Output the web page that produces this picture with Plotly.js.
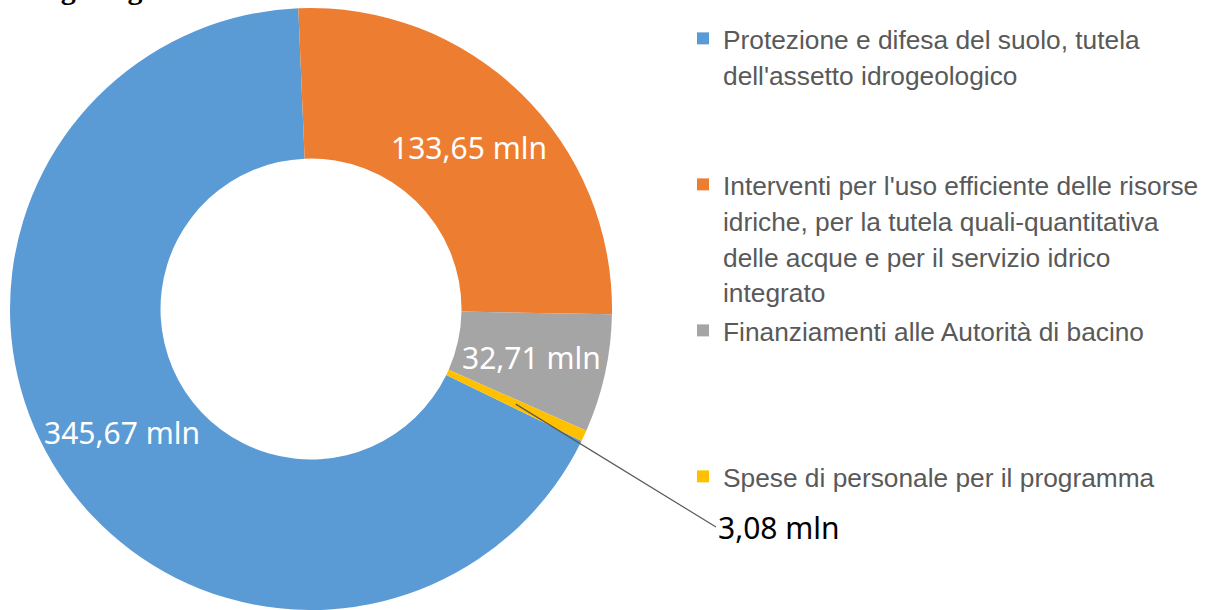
<!DOCTYPE html>
<html><head><meta charset="utf-8">
<script src="https://cdn.plot.ly/plotly-3.0.1.min.js"></script>
<style>html,body{margin:0;padding:0;background:#fff}#chart{width:1208px;height:610px}</style>
</head><body><div id="chart"></div>
<script>
// ---- data ----
const categories = [
  "Protezione e difesa del suolo, tutela<br>dell'assetto idrogeologico",
  "Interventi per l'uso efficiente delle risorse<br>idriche, per la tutela quali-quantitativa<br>delle acque e per il servizio idrico<br>integrato",
  "Finanziamenti alle Autorità di bacino",
  "Spese di personale per il programma"
];
const values = [345.67, 133.65, 32.71, 3.08];
const unit = "mln";
const titleFragment = "idrogeologico";

// ---- style ----
const sliceColors = ["#5B9BD5", "#ED7D31", "#A5A5A5", "#FFC000"];
const labelColors = ["#FFFFFF", "#FFFFFF", "#FFFFFF", "#000000"];
const labelOutside = [false, false, false, true];
const legendPadding = [2, 0, 3, 0]; // blank lines after each legend entry (spacing)
const legendGlyphSize = 26.3;        // glyph size inside the legend (line pitch from legend font)
const W = 1208, H = 610;
const domainX = [10 / W, 612 / W];
const domainY = [0, 602 / H];
const rotation = 116;
const hole = 0.5;
const labelFont = { family: "Noto Sans, sans-serif", size: 30 };

const valueLabels = values.map(v => v.toFixed(2).replace(".", ",") + " " + unit);
const legendLabels = categories.map((c, i) =>
  c.split("<br>").map(line => '<span style="font-size:' + legendGlyphSize + 'px">' + line + "</span>").join("<br>")
  + "<br> ".repeat(legendPadding[i]));

// slice geometry derived from the data (for placing the value labels)
const total = values.reduce((a, b) => a + b, 0);
const cx = (domainX[0] + domainX[1]) / 2 * W;
const cy = (1 - (domainY[0] + domainY[1]) / 2) * H;
const R = Math.min((domainX[1] - domainX[0]) * W, (domainY[1] - domainY[0]) * H) / 2;
const rMid = R * (1 + hole) / 2;
let cum = 0;
const labelAnns = values.map((v, i) => {
  const frac = (cum + v / 2) / total;
  cum += v;
  const a = (rotation + frac * 360) * Math.PI / 180;
  const px = cx + rMid * Math.sin(a);
  const py = cy - rMid * Math.cos(a);
  const ann = {
    text: valueLabels[i],
    xref: "paper", yref: "paper",
    x: px / W, y: 1 - py / H,
    xanchor: "center", yanchor: "middle",
    font: Object.assign({ color: labelColors[i] }, labelFont),
    showarrow: false
  };
  if (labelOutside[i]) {
    Object.assign(ann, {
      showarrow: true, arrowhead: 0, arrowwidth: 1.2, arrowcolor: "#595959",
      ax: 716 - px, ay: 527 - py,
      xanchor: "left", yanchor: "middle"
    });
  }
  return ann;
});

const trace = {
  type: "pie",
  values: values,
  labels: legendLabels,
  textinfo: "none",
  marker: { colors: sliceColors, line: { width: 0 } },
  hole: hole,
  sort: false,
  direction: "clockwise",
  rotation: rotation,
  domain: { x: domainX, y: domainY },
  hoverinfo: "label+value"
};

const layout = {
  width: W, height: H,
  margin: { l: 0, r: 0, t: 0, b: 0, pad: 0, autoexpand: false },
  paper_bgcolor: "#FFFFFF",
  showlegend: true,
  legend: {
    x: 683 / W, xanchor: "left",
    y: 1 - 14 / H, yanchor: "top",
    valign: "top",
    font: { family: "Liberation Sans, Arial, sans-serif", size: 27.5, color: "#595959" },
    bgcolor: "rgba(0,0,0,0)",
    borderwidth: 0
  },
  annotations: labelAnns.concat([
    {
      text: "<b>" + titleFragment + "</b>",
      xref: "paper", yref: "paper",
      x: 0, y: 1, xanchor: "left", yanchor: "bottom",
      xshift: 6, yshift: -7,
      showarrow: false,
      font: { family: "Liberation Serif, Times New Roman, serif", size: 30, color: "#000000" }
    }
  ])
};

Plotly.newPlot("chart", [trace], layout, { displayModeBar: false, staticPlot: true });
</script>
</body></html>
